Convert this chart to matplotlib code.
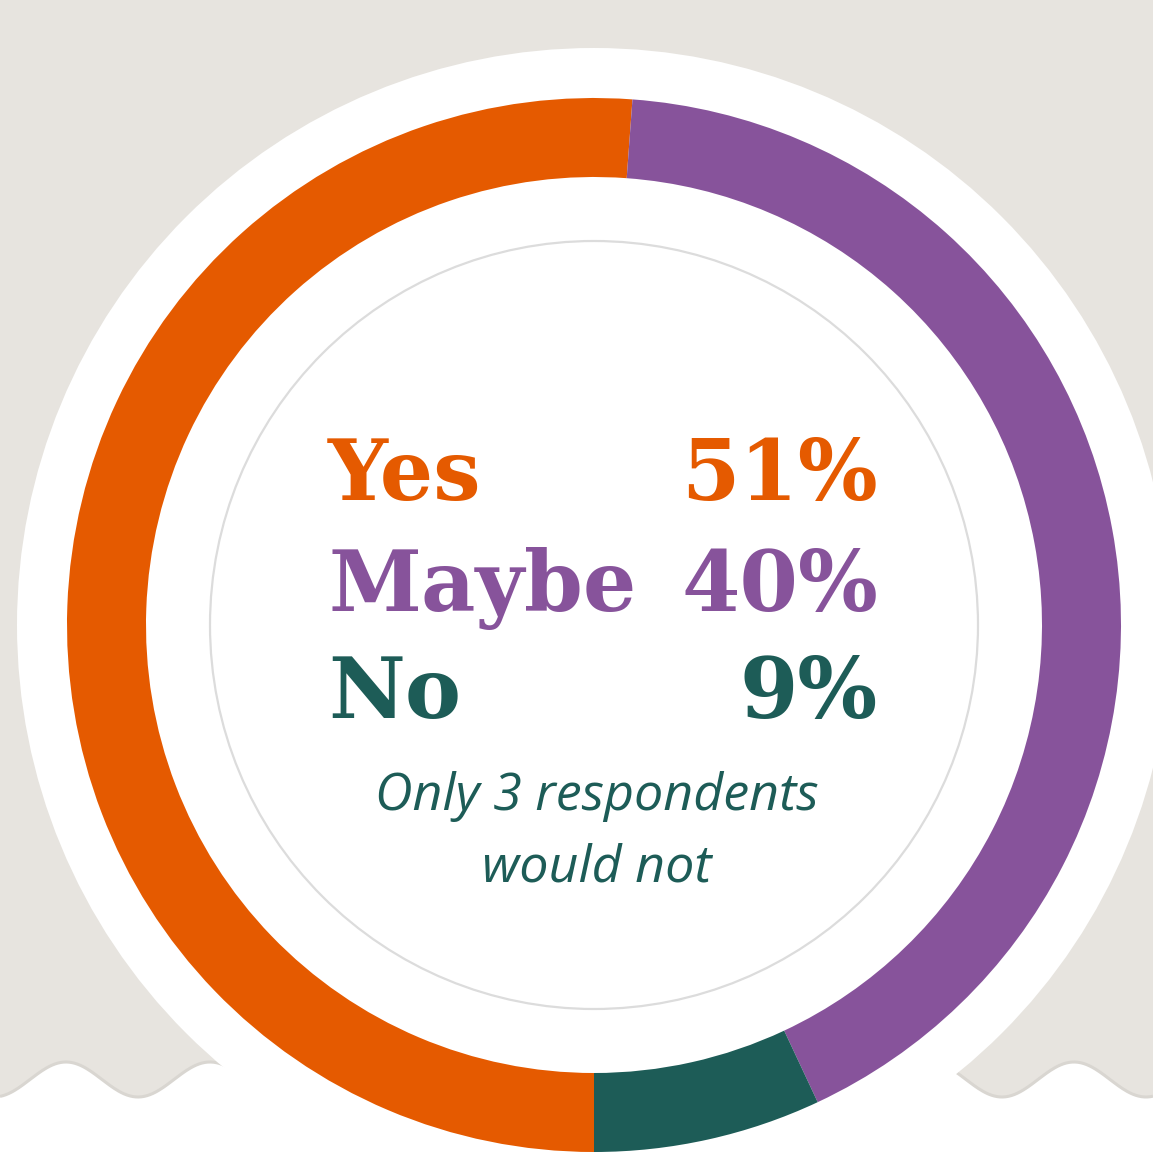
import matplotlib

matplotlib.use("Agg")
import matplotlib.pyplot as plt
import numpy as np
from matplotlib.patches import Circle

# Survey answers (respondent counts read from the ring) and the printed shares
answers = ["Yes", "Maybe", "No"]
counts = [22, 18, 3]
share_labels = ["51%", "40%", "9%"]
note_lines = ["Only 3 respondents", "would not"]

colors = ["#E55A00", "#87539B", "#1D5C57"]
BEIGE = "#E7E4DF"
WAVE_EDGE = "#D9D6D1"
RING_GREY = "#DCDCDC"

W, H = 1153, 1170
CX, CY = 594, H - 625
PX = 72 / 100  # points per pixel at dpi 100

fig = plt.figure(figsize=(W / 100, H / 100), dpi=100)
ax = fig.add_axes([0, 0, 1, 1])
ax.set_facecolor(BEIGE)

# wavy bottom edge of the beige backdrop
xs = np.linspace(0, W, 800)
wave = H - (1079.5 + 17.5 * np.cos(2 * np.pi * (xs - 138) / 144))
ax.fill_between(xs, 0, wave, color="white", zorder=1)
ax.plot(xs, wave, color=WAVE_EDGE, lw=2.2, zorder=1.5, solid_capstyle="butt")

# big white disc and thin grey guide circle
ax.add_patch(Circle((CX, CY), 577, facecolor="white", edgecolor="none", zorder=2))
ax.add_patch(Circle((CX, CY), 384, facecolor="none", edgecolor=RING_GREY, lw=1.6, zorder=3))

ax.pie(
    counts,
    colors=colors,
    center=(CX, CY),
    radius=527,
    startangle=270,
    counterclock=False,
    wedgeprops=dict(width=79, edgecolor="none", linewidth=0, zorder=4),
)

serif = ["DejaVu Serif"]
baselines = [500, 611, 718]
for name, share, col, yb in zip(answers, share_labels, colors, baselines):
    ax.text(328, H - yb, name, ha="left", va="baseline", color=col,
            fontsize=84 * PX, fontweight="bold", family=serif, zorder=5)
    ax.text(878, H - yb, share, ha="right", va="baseline", color=col,
            fontsize=84 * PX, fontweight="bold", family=serif, zorder=5)

for line, yb in zip(note_lines, [810, 882]):
    ax.text(597, H - yb, line, ha="center", va="baseline", color=colors[2],
            fontsize=52 * PX, style="italic", family=["Open Sans"], zorder=5)

ax.set_xlim(0, W)
ax.set_ylim(0, H)
ax.set_aspect("auto")
ax.axis("off")
fig.patch.set_facecolor(BEIGE)

fig.savefig("out.png", dpi=100, facecolor=BEIGE)
